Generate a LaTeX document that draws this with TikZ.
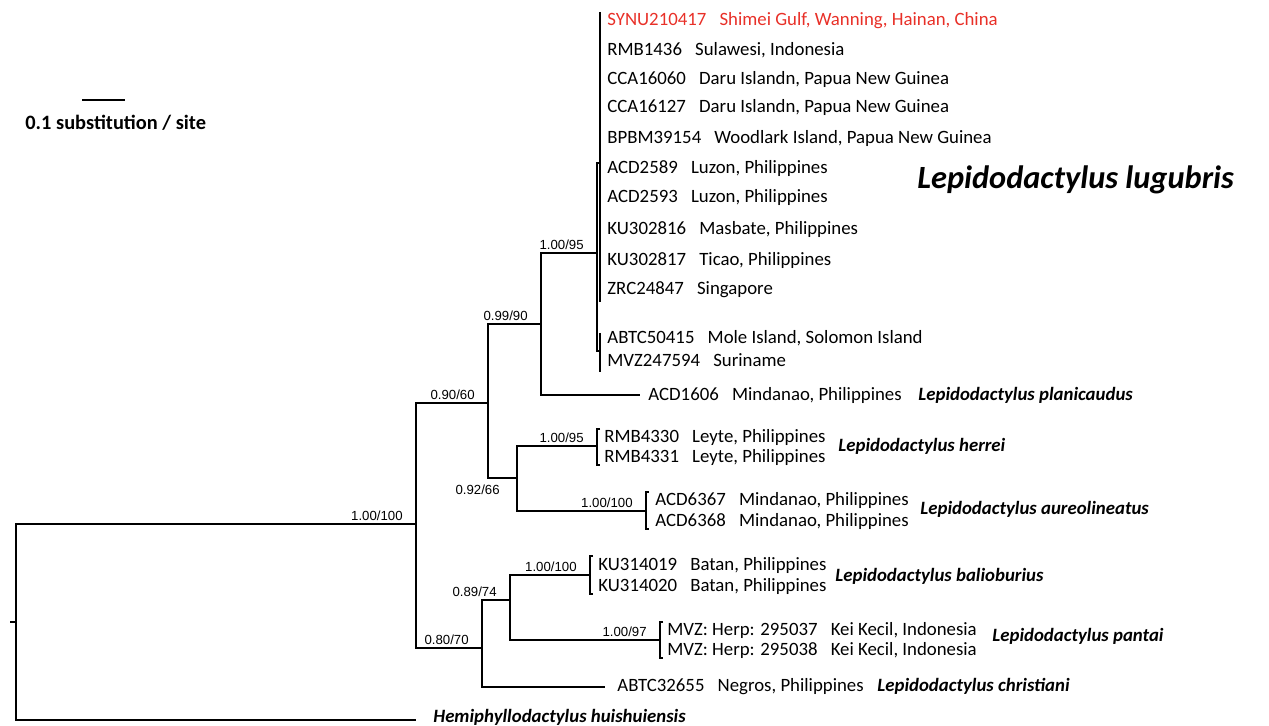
\documentclass[tikz,border=0pt]{standalone}
\usepackage{fontspec}
\setmainfont{Carlito}
\newfontfamily\arialfont{Liberation Sans}
\usetikzlibrary{positioning}
\definecolor{newrec}{RGB}{232,48,40}
\tikzstyle{branch}=[draw,line width=0.65pt]
\tikzstyle{support}=[font=\arialfont\fontsize{6.6}{7}\selectfont,inner sep=0.5pt]
\tikzstyle{tip}=[anchor=west,inner sep=0pt,font=\fontsize{9.4}{11}\selectfont]
\tikzstyle{taxon}=[anchor=west,inner sep=0pt,font=\bfseries\itshape\fontsize{9.4}{11}\selectfont]
\newcommand{\gap}{\hspace{0.7em}}

\begin{document}
\begin{tikzpicture}[x=0.5pt,y=-0.5pt]
\useasboundingbox (0,0) rectangle (1269,726);

% First we place the internal nodes and the branch ends
\foreach \pos/\name in {{(10,622)/stub}, {(16,622)/root}, {(416,524)/n1}, {(488,403)/n2},
    {(482,648)/n3}, {(541,324)/n4}, {(517,478)/n5}, {(597,253)/n6}, {(597,446)/n7},
    {(646,511)/n8}, {(510,600)/n9}, {(590,575)/n10}, {(660,640)/n11}, {(600,163)/n12},
    {(600,351)/n13}, {(416,720)/hemi}, {(640,395)/plan}, {(605,687)/chri}}
  \node[coordinate] (\name) at \pos {};

% Connect the nodes with elbow branches
\path[branch] (stub) -- (root);
\foreach \source/\dest in {root/n1, root/hemi, n1/n2, n1/n3, n2/n4, n2/n5, n4/n6, n4/plan,
    n6/n12, n6/n13, n5/n7, n5/n8, n3/n9, n3/chri, n9/n10, n9/n11}
  \path[branch] (\source) |- (\dest);

% Vertical bars of the terminal clades
\foreach \name/\x/\ya/\yb in {n12/600/12/302, n13/600/333/372}{
  \coordinate (\name-a) at (\x,\ya);
  \coordinate (\name-b) at (\x,\yb);
  \path[branch] (\name-a) -- (\name-b);
}
\foreach \name/\x/\ya/\yb in {n7/597/429/465, n8/646/492/529, n10/590/556/594, n11/660/622/658}{
  \coordinate (\name-a) at (\x,\ya);
  \coordinate (\name-b) at (\x,\yb);
  \path[branch] ([xshift=1.5pt]\name-a) -- (\name-a) -- (\name-b) -- ([xshift=1.5pt]\name-b);
}

% Support values
\foreach \name/\val in {n1/{1.00/100}, n2/{0.90/60}, n4/{0.99/90}, n6/{1.00/95}, n7/{1.00/95},
    n8/{1.00/100}, n10/{1.00/100}, n11/{1.00/97}, n3/{0.80/70}, n9/{0.89/74}}
  \node[support, above left=1pt and 6pt of \name] (s-\name) {\val};
\node[support, below left=3pt and 8pt of n5] (s-n5) {0.92/66};

% Tip labels
\node[tip, text=newrec] (t1) at (607,21) {SYNU210417\gap Shimei Gulf, Wanning, Hainan, China};
\foreach \y/\id/\loc/\name in {50/RMB1436/{Sulawesi, Indonesia}/t2,
    79/CCA16060/{Daru Islandn, Papua New Guinea}/t3,
    107/CCA16127/{Daru Islandn, Papua New Guinea}/t4,
    138/BPBM39154/{Woodlark Island, Papua New Guinea}/t5,
    168/ACD2589/{Luzon, Philippines}/t6, 197/ACD2593/{Luzon, Philippines}/t7,
    229/KU302816/{Masbate, Philippines}/t8, 260/KU302817/{Ticao, Philippines}/t9,
    290/ZRC24847/Singapore/t10, 338/ABTC50415/{Mole Island, Solomon Island}/t11,
    360/MVZ247594/Suriname/t12}
  \node[tip] (\name) at (607,\y) {\id\gap\loc};
\foreach \x/\y/\id/\loc/\name in {648/395/ACD1606/{Mindanao, Philippines}/t13,
    604/437/RMB4330/{Leyte, Philippines}/t14, 604/457/RMB4331/{Leyte, Philippines}/t15,
    655/500/ACD6367/{Mindanao, Philippines}/t16, 655/521/ACD6368/{Mindanao, Philippines}/t17,
    598/565/KU314019/{Batan, Philippines}/t18, 598/586/KU314020/{Batan, Philippines}/t19,
    667/630/{MVZ: Herp: 295037}/{Kei Kecil, Indonesia}/t20,
    667/650/{MVZ: Herp: 295038}/{Kei Kecil, Indonesia}/t21,
    617/687/ABTC32655/{Negros, Philippines}/t22}
  \node[tip] (\name) at (\x,\y) {\id\gap\loc};

% Species names
\node[taxon, font=\bfseries\itshape\fontsize{16.2}{19}\selectfont] (lug) at (917,180) {Lepidodactylus lugubris};
\foreach \x/\y/\sp/\name in {918/395/planicaudus/pla, 838/446/herrei/her, 920/509/aureolineatus/aur,
    835/576/balioburius/bal, 992/636/pantai/pan, 877/686/christiani/chr}
  \node[taxon] (\name) at (\x,\y) {Lepidodactylus \sp};
\node[taxon] (hui) at (433,717) {Hemiphyllodactylus huishuiensis};

% Scale bar
\coordinate (sa) at (82,100);
\coordinate (sb) at (125,100);
\path[branch] (sa) -- (sb);
\node[anchor=west, inner sep=0pt, font=\bfseries\fontsize{10.2}{12}\selectfont] (scl) at (25,123) {0.1 substitution / site};
\end{tikzpicture}
\end{document}
